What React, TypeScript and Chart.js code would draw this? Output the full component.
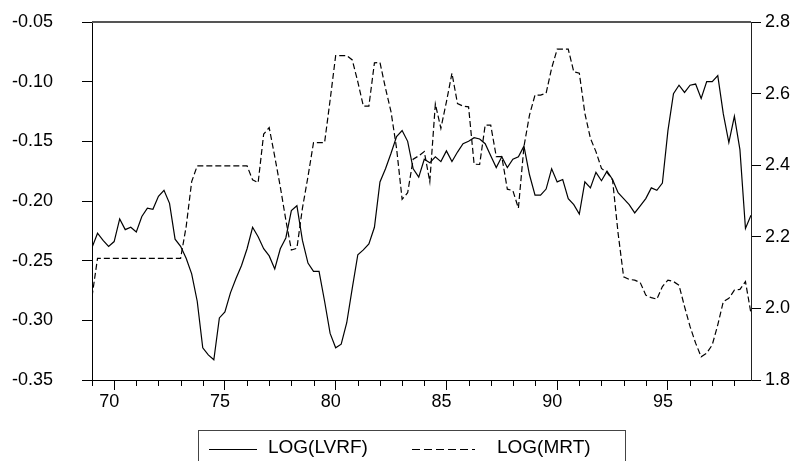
import React, { useEffect, useRef } from "react";
import { Chart, registerables } from "chart.js";

Chart.register(...registerables);

// Quarterly observations, 1969Q1 .. 1998Q4
const START_YEAR = 69;
const PERIODS_PER_YEAR = 4;

const LOG_LVRF: number[] = [
  -0.239, -0.227, -0.233, -0.238, -0.234, -0.215, -0.224, -0.222, -0.226, -0.213,
  -0.206, -0.207, -0.196, -0.191, -0.202, -0.232, -0.238, -0.248, -0.261, -0.284,
  -0.323, -0.329, -0.333, -0.298, -0.293, -0.277, -0.265, -0.254, -0.240, -0.222,
  -0.230, -0.240, -0.246, -0.257, -0.240, -0.231, -0.208, -0.204, -0.233, -0.252,
  -0.259, -0.259, -0.284, -0.311, -0.323, -0.320, -0.302, -0.273, -0.245, -0.241,
  -0.236, -0.222, -0.184, -0.173, -0.160, -0.146, -0.141, -0.150, -0.173, -0.180,
  -0.165, -0.168, -0.163, -0.167, -0.158, -0.167, -0.159, -0.152, -0.150, -0.147,
  -0.148, -0.152, -0.162, -0.172, -0.163, -0.172, -0.165, -0.163, -0.154, -0.178,
  -0.195, -0.195, -0.190, -0.173, -0.184, -0.182, -0.198, -0.203, -0.211, -0.184,
  -0.189, -0.176, -0.183, -0.175, -0.182, -0.193, -0.198, -0.203, -0.210, -0.204,
  -0.198, -0.189, -0.191, -0.185, -0.141, -0.110, -0.103, -0.109, -0.103, -0.102,
  -0.114, -0.100, -0.100, -0.095, -0.127, -0.151, -0.129, -0.157, -0.223, -0.212,
];

const LOG_MRT: number[] = [
  2.033, 2.140, 2.140, 2.140, 2.140, 2.140, 2.140, 2.140, 2.140, 2.140,
  2.140, 2.140, 2.140, 2.140, 2.140, 2.140, 2.140, 2.228, 2.354, 2.398,
  2.398, 2.398, 2.398, 2.398, 2.398, 2.398, 2.398, 2.398, 2.398, 2.359,
  2.351, 2.487, 2.505, 2.424, 2.340, 2.247, 2.163, 2.168, 2.280, 2.368,
  2.463, 2.463, 2.463, 2.582, 2.706, 2.706, 2.706, 2.694, 2.633, 2.565,
  2.565, 2.686, 2.687, 2.615, 2.549, 2.447, 2.305, 2.323, 2.417, 2.426,
  2.438, 2.354, 2.571, 2.503, 2.577, 2.657, 2.572, 2.565, 2.563, 2.403,
  2.402, 2.512, 2.512, 2.424, 2.424, 2.333, 2.329, 2.280, 2.452, 2.540,
  2.596, 2.596, 2.601, 2.671, 2.724, 2.724, 2.724, 2.661, 2.657, 2.545,
  2.475, 2.438, 2.391, 2.380, 2.359, 2.210, 2.088, 2.081, 2.079, 2.072,
  2.037, 2.030, 2.026, 2.061, 2.079, 2.075, 2.065, 2.005, 1.949, 1.903,
  1.865, 1.875, 1.898, 1.954, 2.019, 2.028, 2.051, 2.053, 2.075, 1.986,
];

const X_TICK_YEARS: number[] = [
  69, 70, 71, 72, 73, 74, 75, 76, 77, 78, 79, 80, 81, 82, 83, 84, 85, 86, 87, 88,
  89, 90, 91, 92, 93, 94, 95, 96, 97, 98,
];
const X_LABEL_YEARS: number[] = [70, 75, 80, 85, 90, 95];

const LEFT_MIN = -0.35;
const LEFT_MAX = -0.05;
const LEFT_STEP = 0.05;
const RIGHT_MIN = 1.8;
const RIGHT_MAX = 2.8;
const RIGHT_STEP = 0.2;

const SERIES_NAMES = ["LOG(LVRF)", "LOG(MRT)"];

const FONT = "Liberation Sans, Arial, sans-serif";

const toPoints = (vals: number[]) =>
  vals.map((v, i) => ({ x: START_YEAR + i / PERIODS_PER_YEAR, y: v }));

const frameAndTicksPlugin = {
  id: "frameAndTicks",
  afterDraw(chart: any) {
    const { ctx, chartArea } = chart;
    const xs = chart.scales.x;
    ctx.save();
    // top frame line
    ctx.strokeStyle = "#555";
    ctx.lineWidth = 2;
    ctx.beginPath();
    ctx.moveTo(chartArea.left, chartArea.top);
    ctx.lineTo(chartArea.right, chartArea.top);
    ctx.stroke();
    // minor yearly ticks
    ctx.strokeStyle = "#000";
    ctx.lineWidth = 1;
    ctx.beginPath();
    X_TICK_YEARS.forEach((yr) => {
      if (X_LABEL_YEARS.includes(yr)) return;
      const px = Math.round(xs.getPixelForValue(yr)) + 0.5;
      ctx.moveTo(px, chartArea.bottom);
      ctx.lineTo(px, chartArea.bottom + 6);
    });
    ctx.stroke();
    ctx.restore();
  },
};

const legendPlugin = {
  id: "boxLegend",
  afterDraw(chart: any) {
    const { ctx } = chart;
    const boxL = 198.5;
    const boxR = 625.5;
    const boxT = 430.5;
    ctx.save();
    ctx.strokeStyle = "#444";
    ctx.lineWidth = 1;
    ctx.strokeRect(boxL, boxT, boxR - boxL, 60);
    const lineY = 449.5;
    ctx.strokeStyle = "#000";
    ctx.beginPath();
    ctx.moveTo(209, lineY);
    ctx.lineTo(257, lineY);
    ctx.stroke();
    ctx.setLineDash([8, 4]);
    ctx.beginPath();
    ctx.moveTo(412, lineY);
    ctx.lineTo(475, lineY);
    ctx.stroke();
    ctx.setLineDash([]);
    ctx.fillStyle = "#000";
    ctx.font = `19px ${FONT}`;
    ctx.textBaseline = "alphabetic";
    ctx.textAlign = "left";
    ctx.fillText(SERIES_NAMES[0], 268, 453);
    ctx.fillText(SERIES_NAMES[1], 497, 453);
    ctx.restore();
  },
};

export default function App() {
  const canvasRef = useRef<HTMLCanvasElement | null>(null);

  useEffect(() => {
    if (!canvasRef.current) return;
    const chart = new Chart(canvasRef.current, {
      type: "line",
      data: {
        datasets: [
          {
            label: SERIES_NAMES[0],
            data: toPoints(LOG_LVRF),
            yAxisID: "y",
            borderColor: "#000",
            borderWidth: 1.2,
            pointRadius: 0,
            fill: false,
            tension: 0,
          },
          {
            label: SERIES_NAMES[1],
            data: toPoints(LOG_MRT),
            yAxisID: "y2",
            borderColor: "#000",
            borderWidth: 1.2,
            borderDash: [6, 3],
            pointRadius: 0,
            fill: false,
            tension: 0,
          },
        ],
      },
      options: {
        responsive: false,
        animation: false,
        events: [],
        layout: { padding: { top: 22, bottom: 0, left: 12, right: 0 } },
        plugins: {
          legend: { display: false },
          tooltip: { enabled: false },
        },
        scales: {
          x: {
            type: "linear",
            min: START_YEAR,
            max: START_YEAR + (LOG_LVRF.length - 1) / PERIODS_PER_YEAR,
            afterBuildTicks: (scale: any) => {
              scale.ticks = X_TICK_YEARS.map((v) => ({ value: v }));
            },
            afterFit: (scale: any) => {
              scale.height = 81;
            },
            border: { color: "#000", width: 1 },
            grid: {
              drawOnChartArea: false,
              drawTicks: true,
              tickLength: 10,
              tickColor: (c: any) =>
                c.tick && X_LABEL_YEARS.includes(c.tick.value) ? "#000" : "rgba(0,0,0,0)",
            },
            ticks: {
              autoSkip: false,
              maxRotation: 0,
              color: "#000",
              font: { family: FONT, size: 18 },
              padding: 1,
              labelOffset: -5,
              callback: (v: any) => (X_LABEL_YEARS.includes(Number(v)) ? String(v) : ""),
            },
          },
          y: {
            type: "linear",
            position: "left",
            min: LEFT_MIN,
            max: LEFT_MAX,
            afterFit: (scale: any) => {
              scale.width = 80;
            },
            border: { color: "#000", width: 1 },
            grid: { drawOnChartArea: false, tickLength: 10, tickColor: "#000" },
            ticks: {
              stepSize: LEFT_STEP,
              color: "#000",
              font: { family: FONT, size: 18 },
              padding: 2,
              crossAlign: "far",
              callback: (v: any) => Number(v).toFixed(2),
            },
          },
          y2: {
            type: "linear",
            position: "right",
            min: RIGHT_MIN,
            max: RIGHT_MAX,
            afterFit: (scale: any) => {
              scale.width = 47;
            },
            border: { color: "#222", width: 1 },
            grid: { drawOnChartArea: false, tickLength: 10, tickColor: "#000" },
            ticks: {
              stepSize: RIGHT_STEP,
              color: "#000",
              font: { family: FONT, size: 18 },
              padding: 4,
              callback: (v: any) => Number(v).toFixed(1),
            },
          },
        },
      },
      plugins: [frameAndTicksPlugin, legendPlugin],
    });
    return () => chart.destroy();
  }, []);

  return (
    <div style={{ position: "absolute", left: 0, top: 0, width: 798, height: 461, background: "#fff" }}>
      <canvas ref={canvasRef} width={798} height={461} style={{ display: "block" }} />
    </div>
  );
}
